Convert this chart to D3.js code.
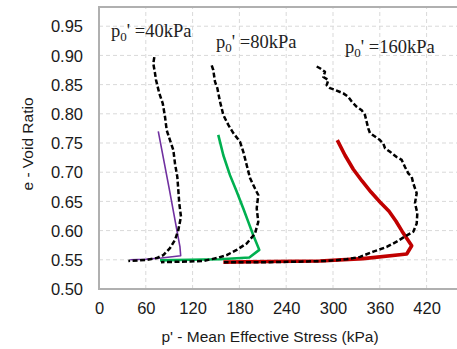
<!DOCTYPE html>
<html>
<head>
<meta charset="utf-8">
<script src="https://cdn.jsdelivr.net/npm/d3@7"></script>
<style>
  body { margin: 0; background: #fff; }
  svg { display: block; }
</style>
</head>
<body>
<svg id="fig" width="457" height="349"></svg>
<script>

// tick values
var xTicks = [0, 60, 120, 180, 240, 300, 360, 420];
var yTicks = [0.50, 0.55, 0.60, 0.65, 0.70, 0.75, 0.80, 0.85, 0.90, 0.95];

// experiment (dashed) and model (solid) paths, [p', e]
var exp40 = [[70.9,0.897],[69.6,0.886],[71.5,0.872],[73.1,0.858],[77.3,0.835],[81.7,0.818],[84.6,0.795],
             [86.8,0.772],[91.0,0.755],[95.3,0.738],[97.4,0.715],[100.4,0.692],[101.7,0.669],[102.9,0.647],
             [105.1,0.624],[101.7,0.601],[97.4,0.584],[91.0,0.570],[82.4,0.558],[74.0,0.553],[61.2,0.550],[37.6,0.548]];
var model40 = [[76.0,0.770],[90.0,0.672],[103.8,0.572],[104.7,0.557],[80.0,0.553],[60.0,0.551],[40.0,0.550]];

var exp80 = [[144.5,0.883],[146.5,0.875],[148.7,0.855],[151.7,0.844],[155.1,0.821],[159.4,0.798],[165.8,0.781],
             [172.2,0.767],[180.8,0.752],[185.0,0.735],[189.4,0.712],[193.6,0.690],[200.0,0.672],[204.2,0.661],
             [202.2,0.638],[204.2,0.615],[200.0,0.595],[189.4,0.578],[176.5,0.567],[163.7,0.558],[150.9,0.553],
             [133.7,0.548],[116.7,0.547],[79.5,0.546]];
var model80 = [[152.9,0.764],[159.4,0.729],[167.9,0.695],[176.5,0.667],[185.0,0.638],[191.4,0.615],[197.8,0.592],
               [205.5,0.567],[192.7,0.554],[155.0,0.551],[116.7,0.550],[78.2,0.549]];

var exp160 = [[279.1,0.881],[283.3,0.878],[289.7,0.872],[287.6,0.863],[294.0,0.858],[291.9,0.849],[296.1,0.844],
              [302.6,0.841],[313.2,0.835],[319.6,0.829],[324.0,0.821],[330.4,0.812],[336.8,0.806],[341.0,0.798],
              [343.2,0.786],[345.2,0.775],[347.4,0.767],[353.8,0.761],[360.2,0.755],[364.5,0.749],[366.7,0.741],
              [373.1,0.735],[381.6,0.726],[388.1,0.721],[392.3,0.709],[396.5,0.698],[400.9,0.692],[402.9,0.681],
              [407.3,0.664],[405.1,0.647],[408.1,0.630],[407.3,0.612],[402.9,0.598],[392.3,0.590],[381.6,0.581],
              [368.8,0.572],[351.6,0.564],[334.6,0.555],[317.6,0.551],[291.9,0.548],[261.9,0.547],[219.2,0.546],
              [176.5,0.546],[160.2,0.546]];
var model160 = [[305.5,0.755],[315.4,0.729],[326.0,0.705],[337.2,0.685],[348.7,0.666],[360.2,0.649],[371.8,0.633],
                [380.8,0.616],[388.5,0.599],[394.9,0.586],[400.9,0.574],[394.5,0.560],[338.8,0.552],[283.3,0.548],
                [219.2,0.547],[159.4,0.546]];

var labels = [{"sub":"0", "rest":"' =40kPa", "p":[111,37]},
              {"sub":"0", "rest":"' =80kPa", "p":[216,48]},
              {"sub":"0", "rest":"' =160kPa", "p":[345,53]}];


function draw_chart(){
    var svg = d3.select("#fig");

    var x = d3.scaleLinear().domain([0, 480]).range([99, 473.4]);
    var y = d3.scaleLinear().domain([0.5, 0.9829]).range([289, 7]);

    // grid
    var grid = svg.append("g");
    grid.selectAll("line.v")
        .data(xTicks.slice(1).concat([480]))
        .enter().append("line")
        .attr("x1", function(d){ return x(d); })
        .attr("x2", function(d){ return x(d); })
        .attr("y1", y(0.5)).attr("y2", 7)
        .attr("stroke", "#d9d9d9").attr("stroke-width", 1)
        .attr("stroke-dasharray", "4,3");
    grid.selectAll("line.h")
        .data(yTicks.slice(1))
        .enter().append("line")
        .attr("x1", 99).attr("x2", 473.4)
        .attr("y1", function(d){ return y(d); })
        .attr("y2", function(d){ return y(d); })
        .attr("stroke", "#d9d9d9").attr("stroke-width", 1)
        .attr("stroke-dasharray", "4,3");

    // frame
    svg.append("rect")
        .attr("x", 99).attr("y", 7)
        .attr("width", 473.4-99).attr("height", 289-7)
        .attr("fill", "none")
        .attr("stroke", "#b0b0b0")
        .attr("stroke-width", 2);

    // axes, labels only
    var xAxis = svg.append("g")
        .attr("transform", "translate(0,289)")
        .call(d3.axisBottom(x).tickValues(xTicks).tickSize(0).tickPadding(10).tickFormat(d3.format("d")));
    var yAxis = svg.append("g")
        .attr("transform", "translate(99,0)")
        .call(d3.axisLeft(y).tickValues(yTicks).tickSize(0).tickPadding(16).tickFormat(d3.format(".2f")));
    [xAxis, yAxis].forEach(function(a){
        a.select(".domain").remove();
        a.selectAll("text")
            .style("font-family", "Arial, 'Liberation Sans', sans-serif")
            .style("font-size", "16.5px")
            .style("fill", "#1a1a1a");
    });
    xAxis.selectAll("text").attr("dy", "0.9em");
    yAxis.selectAll("text").attr("dy", "0.35em");

    // axis titles
    svg.append("text")
        .attr("x", 270).attr("y", 342)
        .attr("text-anchor", "middle")
        .style("font-family", "Arial, 'Liberation Sans', sans-serif")
        .style("font-size", "15.5px")
        .style("fill", "#1a1a1a")
        .text("p' - Mean Effective Stress (kPa)");
    svg.append("text")
        .attr("transform", "translate(33,144) rotate(-90)")
        .attr("text-anchor", "middle")
        .style("font-family", "Arial, 'Liberation Sans', sans-serif")
        .style("font-size", "15.5px")
        .style("fill", "#1a1a1a")
        .text("e - Void Ratio");

    var line = d3.line()
        .x(function(d){ return x(d[0]); })
        .y(function(d){ return y(d[1]); });

    var series = [
        {"data": model40,  "color": "#7030a0", "w": 1.6, "dash": null},
        {"data": model80,  "color": "#00b050", "w": 2.6, "dash": null},
        {"data": model160, "color": "#c00000", "w": 3.6, "dash": null},
        {"data": exp40,    "color": "#000",    "w": 2.5, "dash": "5,2.5"},
        {"data": exp80,    "color": "#000",    "w": 2.5, "dash": "5,2.5"},
        {"data": exp160,   "color": "#000",    "w": 2.5, "dash": "5,2.5"}
    ];

    svg.append("g").selectAll("path")
        .data(series)
        .enter().append("path")
        .attr("d", function(d){ return line(d.data); })
        .attr("fill", "none")
        .attr("stroke", function(d){ return d.color; })
        .attr("stroke-width", function(d){ return d.w; })
        .attr("stroke-linejoin", "round")
        .attr("stroke-dasharray", function(d){ return d.dash; });

    // p0' annotations
    labels.forEach(function(l){
        var t = svg.append("text")
            .attr("x", l.p[0]).attr("y", l.p[1])
            .style("font-family", "'Liberation Serif', 'Times New Roman', serif")
            .style("font-size", "18.5px")
            .style("fill", "#222");
        t.append("tspan").text("p");
        t.append("tspan").attr("dy", 4).style("font-size", "13px").text(l.sub);
        t.append("tspan").attr("dy", -4).text(l.rest);
    });
}

draw_chart();
</script>
</body>
</html>
